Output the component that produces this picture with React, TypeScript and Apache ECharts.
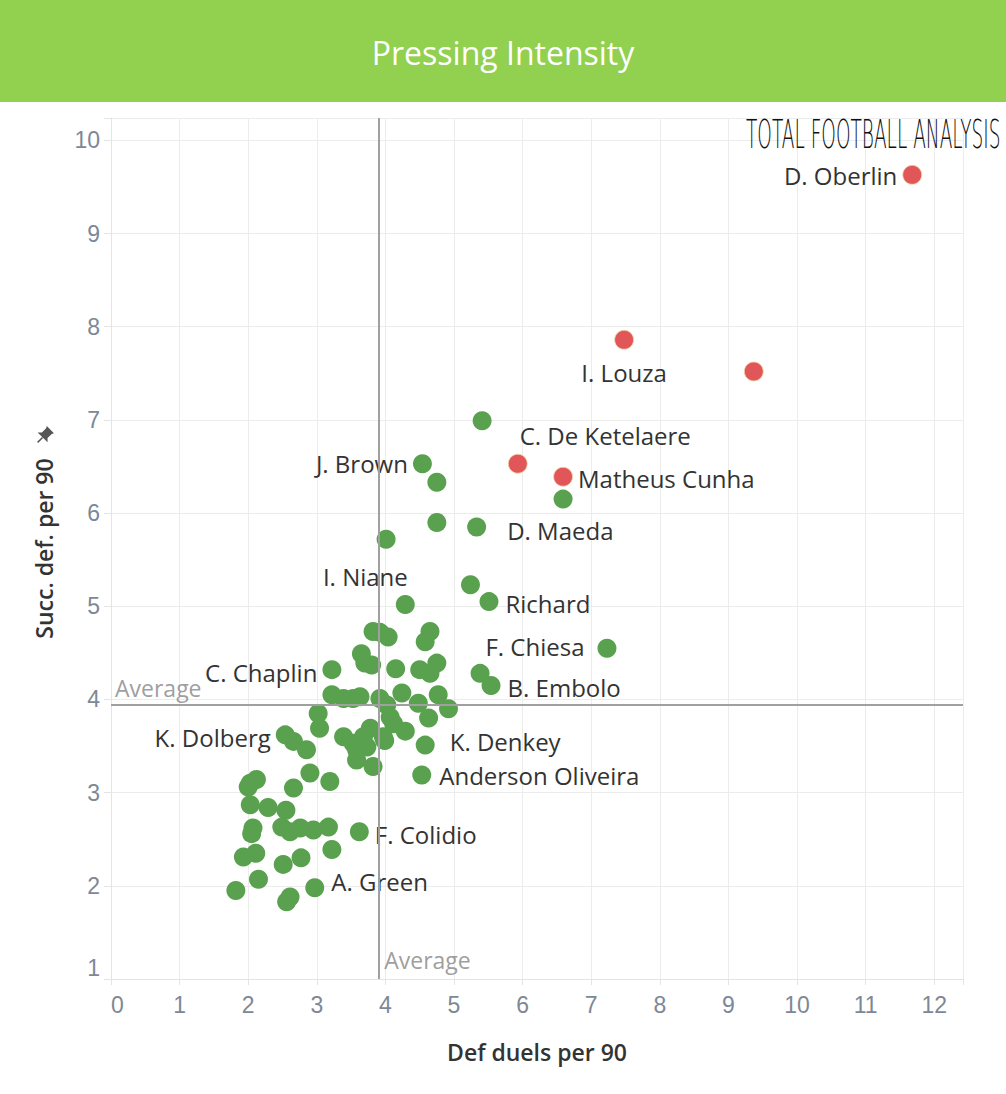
import React, { useEffect, useRef } from "react";
import * as echarts from "echarts";

const chartTitle = "Pressing Intensity";
const xAxisName = "Def duels per 90";
const yAxisName = "Succ. def. per 90";
const logoText = "TOTAL FOOTBALL ANALYSIS";
const averageX = 3.91;
const averageY = 3.94;

const redNames = ["D. Oberlin", "I. Louza", "", "C. De Ketelaere", "Matheus Cunha"];
const redX = [11.68, 7.48, 9.37, 5.93, 6.59];
const redY = [9.63, 7.86, 7.52, 6.53, 6.39];

const greenNames = [
  "", "J. Brown", "", "", "", "D. Maeda", "", "", "Richard", "I. Niane",
  "", "", "", "", "", "", "", "", "C. Chaplin", "",
  "", "", "", "", "B. Embolo", "F. Chiesa", "", "", "", "",
  "", "", "", "", "", "", "", "", "", "",
  "", "", "K. Dolberg", "", "", "", "", "", "", "",
  "", "", "", "", "", "K. Denkey", "Anderson Oliveira", "", "", "",
  "", "", "", "", "", "", "", "", "", "",
  "", "", "", "F. Colidio", "", "", "", "", "",
  "", "", "", "", "A. Green",
];
const greenX = [
  5.41, 4.54, 4.75, 6.59, 4.75, 5.33, 4.01, 5.24, 5.51, 4.29,
  3.82, 3.92, 4.04, 4.65, 4.58, 3.65, 3.70, 3.80, 3.22, 4.15,
  4.50, 4.75, 4.65, 5.38, 5.54, 7.23, 3.22, 3.39, 3.53, 3.63,
  3.92, 4.02, 4.24, 4.48, 4.77, 4.92, 3.02, 3.04, 4.07, 4.12,
  4.29, 4.63, 2.54, 2.66, 2.85, 3.39, 3.53, 3.68, 3.78, 3.58,
  3.73, 3.97, 3.58, 3.82, 3.99, 4.58, 4.53, 2.90, 3.19, 2.66,
  2.03, 2.12, 2.00, 2.03, 2.29, 2.55, 2.07, 2.05, 2.49, 2.61,
  2.76, 2.95, 3.17, 3.62, 3.22, 1.93, 2.11, 2.51, 2.77,
  2.15, 1.82, 2.61, 2.56, 2.97,
];
const greenY = [
  6.99, 6.53, 6.33, 6.15, 5.90, 5.85, 5.72, 5.23, 5.05, 5.02,
  4.73, 4.72, 4.67, 4.73, 4.62, 4.49, 4.39, 4.37, 4.32, 4.33,
  4.32, 4.39, 4.28, 4.28, 4.15, 4.55, 4.05, 4.01, 4.01, 4.03,
  4.01, 3.94, 4.07, 3.96, 4.05, 3.90, 3.85, 3.69, 3.81, 3.74,
  3.66, 3.80, 3.62, 3.55, 3.46, 3.60, 3.53, 3.60, 3.69, 3.46,
  3.49, 3.60, 3.35, 3.28, 3.56, 3.51, 3.19, 3.21, 3.12, 3.05,
  3.10, 3.14, 3.06, 2.87, 2.84, 2.81, 2.62, 2.56, 2.63, 2.58,
  2.62, 2.60, 2.63, 2.58, 2.39, 2.31, 2.35, 2.23, 2.30,
  2.07, 1.95, 1.88, 1.83, 1.98,
];

const labelPlacement: Record<string, { position: string; offset: number[] }> = {
  "D. Oberlin": { position: "left", offset: [0, 1] },
  "I. Louza": { position: "bottom", offset: [0, 6] },
  "C. De Ketelaere": { position: "right", offset: [-13, -28] },
  "Matheus Cunha": { position: "right", offset: [0, 2] },
  "J. Brown": { position: "left", offset: [0, 0] },
  "D. Maeda": { position: "right", offset: [16, 3] },
  Richard: { position: "right", offset: [2, 2] },
  "I. Niane": { position: "left", offset: [17, -28] },
  "F. Chiesa": { position: "left", offset: [-8, -2] },
  "C. Chaplin": { position: "left", offset: [0, 3] },
  "B. Embolo": { position: "right", offset: [2, 2] },
  "K. Dolberg": { position: "left", offset: [0, 3] },
  "K. Denkey": { position: "right", offset: [10, -4] },
  "Anderson Oliveira": { position: "right", offset: [3, 1] },
  "F. Colidio": { position: "right", offset: [1, 3] },
  "A. Green": { position: "right", offset: [2, -6] },
};

const labelFont = "'Open Sans', 'Noto Sans', sans-serif";

function buildData(names: string[], xs: number[], ys: number[]) {
  return xs.map((x, i) => {
    const name = names[i];
    const place = labelPlacement[name];
    return {
      name,
      value: [x, ys[i]],
      label: name && place
        ? { show: true, position: place.position, offset: place.offset, formatter: name }
        : { show: false },
    };
  });
}

export default function App() {
  const ref = useRef<HTMLDivElement>(null);

  useEffect(() => {
    document.body.style.margin = "0";
    if (!ref.current) return;
    const chart = echarts.init(ref.current, undefined, { renderer: "svg" });

    const intLabel = (v: number) => (Math.abs(v - Math.round(v)) < 1e-6 ? String(Math.round(v)) : "");

    const seriesLabel = {
      color: "#333333",
      fontSize: 24,
      fontFamily: labelFont,
    };

    chart.setOption({
      animation: false,
      backgroundColor: "#ffffff",
      title: {
        text: chartTitle,
        left: "center",
        top: 32,
        padding: 0,
        textStyle: {
          color: "#ffffff",
          fontSize: 32,
          fontWeight: "normal",
          fontFamily: labelFont,
          lineHeight: 40,
        },
        z: 10,
      },
      graphic: [
        {
          type: "rect",
          left: 0,
          top: 0,
          shape: { x: 0, y: 0, width: 1006, height: 102 },
          style: { fill: "#92d050" },
          z: 0,
        },
        {
          type: "text",
          x: 746,
          y: 115,
          scaleX: 0.515,
          scaleY: 1.08,
          style: {
            text: logoText,
            fill: "#111111",
            font: "200 36px 'DejaVu Sans', sans-serif",
          },
          z: 10,
        },
        {
          type: "group",
          x: 44,
          y: 436,
          rotation: -Math.PI / 4,
          z: 10,
          children: [
            {
              type: "polygon",
              shape: {
                points: [[-5, -9], [5, -9], [4, -7], [4, -1], [7, 2], [-7, 2], [-4, -1], [-4, -7]],
              },
              style: { fill: "#555555" },
            },
            {
              type: "line",
              shape: { x1: 0, y1: 2, x2: 0, y2: 9 },
              style: { stroke: "#555555", lineWidth: 1.5 },
            },
          ],
        },
      ],
      grid: { left: 111, right: 43, top: 118, bottom: 115, containLabel: false },
      xAxis: {
        type: "value",
        min: 0,
        max: 12.42,
        interval: 1,
        name: xAxisName,
        nameLocation: "middle",
        nameGap: 61,
        nameTextStyle: { color: "#333333", fontSize: 23, fontWeight: 600, fontFamily: labelFont },
        axisLine: { show: true, lineStyle: { color: "#e4e4e4", width: 1 } },
        axisTick: { show: true, length: 6, lineStyle: { color: "#e4e4e4" } },
        axisLabel: {
          formatter: intLabel,
          color: "#7d8896",
          fontSize: 23,
          fontFamily: "'Liberation Sans', Arial, sans-serif",
          margin: 14,
          alignMinLabel: "left",
        },
        splitLine: { show: true, lineStyle: { color: "#ececec", width: 1 } },
      },
      yAxis: {
        type: "value",
        min: 1,
        max: 10.24,
        interval: 1,
        name: yAxisName,
        nameLocation: "middle",
        nameGap: 56,
        nameTextStyle: { color: "#333333", fontSize: 23, fontWeight: 600, fontFamily: labelFont },
        axisLine: { show: true, lineStyle: { color: "#e4e4e4", width: 1 } },
        axisTick: { show: true, length: 7, lineStyle: { color: "#e4e4e4" } },
        axisLabel: {
          formatter: intLabel,
          color: "#7d8896",
          fontSize: 23,
          fontFamily: "'Liberation Sans', Arial, sans-serif",
          margin: 11,
          verticalAlignMinLabel: "bottom",
        },
        splitLine: { show: true, lineStyle: { color: "#ececec", width: 1 } },
      },
      series: [
        {
          type: "scatter",
          name: "others",
          symbolSize: 19,
          itemStyle: { color: "#59a14f", opacity: 1 },
          label: seriesLabel,
          data: buildData(greenNames, greenX, greenY),
          z: 3,
        },
        {
          type: "scatter",
          name: "highlighted",
          symbolSize: 19,
          itemStyle: { color: "#e15759", opacity: 1, borderColor: "#f3d7a6", borderWidth: 0.8 },
          label: seriesLabel,
          data: buildData(redNames, redX, redY),
          z: 4,
        },
        {
          type: "scatter",
          name: "average",
          symbolSize: 0,
          silent: true,
          z: 5,
          label: {
            show: true,
            formatter: "Average",
            color: "#858585",
            fontSize: 23,
            fontFamily: labelFont,
            position: "right",
          },
          data: [
            { value: [averageX, 1], label: { offset: [0, -19] } },
            { value: [0, averageY], label: { offset: [-1, -17] } },
          ],
          markLine: {
            silent: true,
            symbol: "none",
            label: { show: false },
            lineStyle: { color: "#a0a0a0", width: 2, type: "solid" },
            data: [{ xAxis: averageX }, { yAxis: averageY }],
          },
        },
      ],
    });

    return () => chart.dispose();
  }, []);

  return <div ref={ref} style={{ width: 1006, height: 1094 }} />;
}
